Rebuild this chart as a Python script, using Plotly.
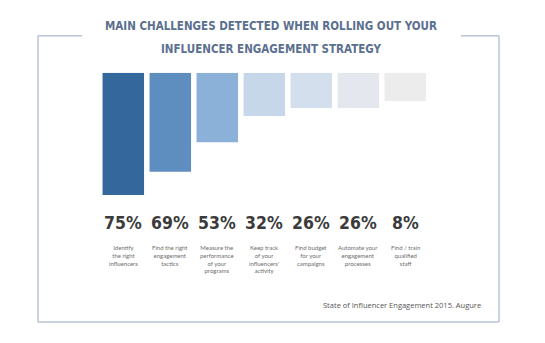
import plotly.graph_objects as go

# ---- data ----
categories = [
    "Identify<br>the right<br>influencers",
    "Find the right<br>engagement<br>tactics",
    "Measure the<br>performance<br>of your<br>programs",
    "Keep track<br>of your<br>influencers'<br>activity",
    "Find budget<br>for your<br>campaigns",
    "Automate your<br>engagement<br>processes",
    "Find / train<br>qualified<br>staff",
]
shares = [75, 69, 53, 32, 26, 26, 8]                 # printed percentages
bar_depth = [75, 60.7, 42.6, 26.6, 21.7, 21.7, 17.4]  # drawn bar lengths (as read)
bar_colors = ["#34689d", "#5e8ec0", "#8cb1d9", "#c6d7ea", "#d3dfec", "#e4e8ee", "#ececec"]

title_lines = ["MAIN CHALLENGES DETECTED WHEN ROLLING OUT YOUR",
               "INFLUENCER ENGAGEMENT STRATEGY"]
source_text = "State of Influencer Engagement 2015. Augure"

W, H = 545, 343
def px(x):
    return x / W
def py(y):
    return 1 - y / H

COND = "DejaVu Sans Condensed, DejaVu Sans, sans-serif"
idx = list(range(len(categories)))

fig = go.Figure()
fig.add_trace(go.Bar(
    x=idx, y=bar_depth,
    marker=dict(color=bar_colors, line=dict(width=0)),
    hoverinfo="skip",
))

annotations = []
for i, (s, c) in enumerate(zip(shares, categories)):
    annotations.append(dict(
        x=i, xref="x", y=py(223), yref="paper", yanchor="middle",
        text=f"{s}%", showarrow=False,
        font=dict(family=COND, size=17.5, color="#3b3b3b", weight="bold"),
    ))
    annotations.append(dict(
        x=i, xref="x", y=py(241.5), yref="paper", yanchor="top",
        text=c, showarrow=False, align="center",
        font=dict(family="Lato", size=6, color="#6e6e6e"),
    ))

for line, yy in zip(title_lines, [26, 48.5]):
    annotations.append(dict(
        x=px(271), y=py(yy), xref="paper", yref="paper", yanchor="middle",
        text=line, showarrow=False,
        font=dict(family=COND, size=11.5, color="#5b6f8f", weight="bold"),
    ))
annotations.append(dict(
    x=px(483), y=py(305), xref="paper", yref="paper", xanchor="right", yanchor="middle",
    text=source_text, showarrow=False,
    font=dict(family="Open Sans", size=7.5, color="#555555"),
))

frame_color = "#b9c4d6"
frame = [
    (38, 35.7, 82, 35.7),
    (38, 35.7, 38, 322),
    (38, 322, 499, 322),
    (499, 322, 499, 35.7),
    (461, 35.7, 499, 35.7),
]
shapes = [dict(type="line", xref="paper", yref="paper",
               x0=px(a), y0=py(b), x1=px(c), y1=py(d),
               line=dict(color=frame_color, width=1.5)) for a, b, c, d in frame]

fig.update_layout(
    width=W, height=H,
    margin=dict(l=0, r=0, t=0, b=0),
    paper_bgcolor="white", plot_bgcolor="white",
    showlegend=False,
    bargap=0.117,
    xaxis=dict(domain=[px(99.8), px(428.8)], range=[-0.5, 6.5],
               visible=False, fixedrange=True),
    yaxis=dict(domain=[py(235.7), py(72.7)], range=[100, 0],
               visible=False, fixedrange=True),
    annotations=annotations,
    shapes=shapes,
)

fig.write_html("out.html")
